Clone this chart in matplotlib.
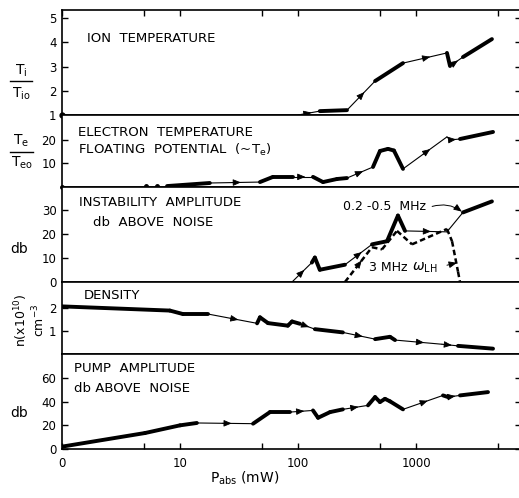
import numpy as np
import matplotlib
matplotlib.use("Agg")
import matplotlib.pyplot as plt
from matplotlib.lines import Line2D

# ---------------------------------------------------------------------------
# data (P_abs in mW, log axis; first tick "0" sits at 1 mW)
# segment style: 0 = thin, 1 = thin with arrow, 2 = thick
# ---------------------------------------------------------------------------
ion_p = [1, 100, 153, 260, 450, 776, 1830, 1942, 2500, 4400]
ion_t = [1.0, 1.0, 1.16, 1.2, 2.4, 3.14, 3.56, 3.02, 3.39, 4.13]
ion_seg = "012121212"

te_p = [7.77, 17.9, 47.6, 61.4, 90.7, 134, 163, 214, 260, 432, 495, 579, 650,
        776, 1830, 1942, 2360, 4495]
te_v = [0.4, 1.7, 2.1, 4.3, 4.3, 4.3, 2.1, 3.4, 3.8, 8.5, 15.3, 16.2, 15.5,
        7.7, 21.3, 20.0, 20.4, 23.4]
te_seg = "21221222122221012"
te_dot_p = [1, 5.15, 6.4]
te_dot_v = [0.0, 0.4, 0.4]

inst_p = [89, 131, 139, 153, 250, 424, 568, 703, 807, 1830, 2500, 4400]
inst_v = [0, 8.1, 10.2, 5.1, 7.2, 15.7, 17.0, 27.7, 21.3, 20.9, 29.0, 33.6]
inst_seg = "12221222102"
lh_p = [250, 424, 515, 690, 925, 1830, 2020, 2270, 2360]
lh_v = [0, 14.5, 13.6, 21.3, 15.7, 22.1, 17.0, 4.3, 0]
lh_seg = "12222222"

dens_p = [1, 8.2, 10.6, 17.3, 45, 47.6, 55.7, 82, 89, 104, 139, 240, 450,
          602, 664, 1660, 2270, 4495]
dens_n = [2.05, 1.87, 1.72, 1.72, 1.32, 1.58, 1.33, 1.22, 1.40, 1.30, 1.07,
          0.93, 0.64, 0.74, 0.60, 0.42, 0.35, 0.23]
dens_seg = "22212222212122112"

pump_p = [1, 5.05, 10, 13.9, 41.6, 57.9, 85.5, 134, 148, 187, 240, 392, 450,
          495, 546, 602, 776, 1694, 1867, 2360, 4075]
pump_a = [2, 13.5, 20, 22, 21.4, 31.2, 31.2, 32.6, 26.4, 31.2, 33.5, 36.9,
          43.9, 39.7, 42.4, 40.3, 33.5, 45.3, 43.9, 45.3, 48.1]
pump_seg = "22212212221222221212"

x_major = [1, 10, 100, 1000]
x_major_lab = ["0", "10", "100", "1000"]
x_minor = [5, 50, 500, 5000]

# ---------------------------------------------------------------------------
W, H = 519, 498
fig = plt.figure(figsize=(W / 100, H / 100), dpi=100)
plt.rcParams["font.family"] = ["DejaVu Sans"]

x0_px, x1_px, dec_px = 62, 521, 118
xmax = 10 ** ((x1_px - x0_px) / dec_px)

rows = [(10, 115), (115, 187), (187, 282), (282, 354), (354, 449)]
ylims = [(1, 5.33), (0, 30.6), (0, 39.6), (0, 3.1), (0, 80.3)]
yticks = [[1, 2, 3, 4, 5], [10, 20], [0, 10, 20, 30], [1, 2], [0, 20, 40, 60]]

axes = []
for (top, bot), yl, yt in zip(rows, ylims, yticks):
    ax = fig.add_axes([x0_px / W, 1 - bot / H, (x1_px - x0_px) / W, (bot - top) / H])
    ax.set_xscale("log")
    ax.set_xlim(1, xmax)
    ax.set_ylim(*yl)
    ax.set_yticks(yt)
    ax.set_yticklabels([str(v) for v in yt])
    for s in ax.spines.values():
        s.set_linewidth(1.2)
    ax.tick_params(axis="y", direction="in", length=4, width=1, labelsize=8.5,
                   pad=4, right=True)
    ax.tick_params(axis="x", which="both", bottom=False, top=False,
                   labelbottom=False)
    ax.set_xticks(x_major)
    ax.set_xticks(x_minor, minor=True)
    axes.append(ax)

axes[0].tick_params(axis="x", which="both", top=True, direction="in",
                    length=4.5, width=1)
axes[-1].tick_params(axis="x", which="both", bottom=True, labelbottom=True,
                     direction="in", length=4.5, width=1, labelsize=8.5, pad=6)
axes[-1].set_xticklabels(x_major_lab)
axes[-1].xaxis.set_minor_formatter(plt.NullFormatter())


def pt(p0, v0, p1, v1, f):
    lp = np.log10(p0) + f * (np.log10(p1) - np.log10(p0))
    return 10 ** lp, v0 + f * (v1 - v0)


def draw_curve(ax, p, v, seg, thin=0.8, thick=2.8, dashes=None):
    for i, s in enumerate(seg):
        lw = thick if s == "2" else thin
        ln, = ax.plot(p[i:i + 2], v[i:i + 2], color="k", lw=lw,
                      solid_capstyle="round", dash_capstyle="butt")
        if dashes is not None:
            ln.set_dashes(dashes)
        if s == "1":
            a = pt(p[i], v[i], p[i + 1], v[i + 1], 0.45)
            b = pt(p[i], v[i], p[i + 1], v[i + 1], 0.62)
            ax.annotate("", xy=b, xytext=a,
                        arrowprops=dict(arrowstyle="-|>,head_length=0.6,head_width=0.25",
                                        color="k", lw=0.6, mutation_scale=8,
                                        shrinkA=0, shrinkB=0))


draw_curve(axes[0], ion_p, ion_t, ion_seg)
axes[0].plot([1], [1], "o", color="k", ms=3.5, clip_on=False)

draw_curve(axes[1], te_p, te_v, te_seg)
axes[1].plot(te_dot_p, te_dot_v, "o", color="k", ms=2.5, clip_on=False)

draw_curve(axes[2], inst_p, inst_v, inst_seg)
draw_curve(axes[2], lh_p, lh_v, lh_seg, thin=1.8, thick=1.8, dashes=(2.2, 1.3))

draw_curve(axes[3], dens_p, dens_n, dens_seg)
draw_curve(axes[4], pump_p, pump_a, pump_seg)

# annotations in the instability panel
ax3 = axes[2]
ax3.text(240, 31.5, "0.2 -0.5  MHz", fontsize=9, va="center", ha="left")
ax3.annotate("", xy=(inst_p[-2], inst_v[-2]), xytext=(1370, 31.5),
             arrowprops=dict(arrowstyle="-|>,head_length=0.6,head_width=0.25",
                             color="k", lw=0.7, mutation_scale=8,
                             connectionstyle="arc3,rad=-0.25",
                             shrinkA=0, shrinkB=1))
ax3.text(400, 5.9, "3 MHz", fontsize=9, va="center", ha="left")
ax3.text(920, 5.9, r"$\omega_{\rm LH}$", fontsize=10, va="center", ha="left")
ax3.annotate("", xy=(2225, 8.0), xytext=(1830, 7.0),
             arrowprops=dict(arrowstyle="-|>,head_length=0.6,head_width=0.25",
                             color="k", lw=0.7, mutation_scale=8,
                             shrinkA=0, shrinkB=0))


# ---------------------------------------------------------------------------
# text placed in pixel coordinates
def ftext(x, y, s, **kw):
    kw.setdefault("fontsize", 9.5)
    kw.setdefault("va", "center")
    return fig.text(x / W, 1 - y / H, s, **kw)


def fbar(x0, x1, y):
    fig.add_artist(Line2D([x0 / W, x1 / W], [1 - y / H, 1 - y / H],
                          color="k", lw=1.0, transform=fig.transFigure))


ftext(87, 38, "ION  TEMPERATURE")
ftext(78, 132, "ELECTRON  TEMPERATURE")
ftext(78, 150, r"FLOATING  POTENTIAL  (~T$_{\rm e}$)")
ftext(79, 203, "INSTABILITY  AMPLITUDE")
ftext(93, 222, "db  ABOVE  NOISE")
ftext(84, 295, "DENSITY")
ftext(74, 368, "PUMP  AMPLITUDE")
ftext(74, 388, "db ABOVE  NOISE")

# y-axis labels
ftext(21, 71, r"T$_{\rm i}$", ha="center", fontsize=10)
fbar(10, 32, 81)
ftext(21, 94, r"T$_{\rm io}$", ha="center", fontsize=10)
ftext(21, 141, r"T$_{\rm e}$", ha="center", fontsize=10)
fbar(10, 33, 152)
ftext(22, 163, r"T$_{\rm eo}$", ha="center", fontsize=10)
ftext(19, 249, "db", ha="center", fontsize=10)
ftext(30, 320, "n(x10$^{10}$)\ncm$^{-3}$", ha="center", rotation=90,
      fontsize=9, linespacing=1.0)
ftext(19, 413, "db", ha="center", fontsize=10)

ftext(245, 478, r"P$_{\rm abs}$ (mW)", ha="center", fontsize=10)

fig.savefig("out.png", dpi=100)
